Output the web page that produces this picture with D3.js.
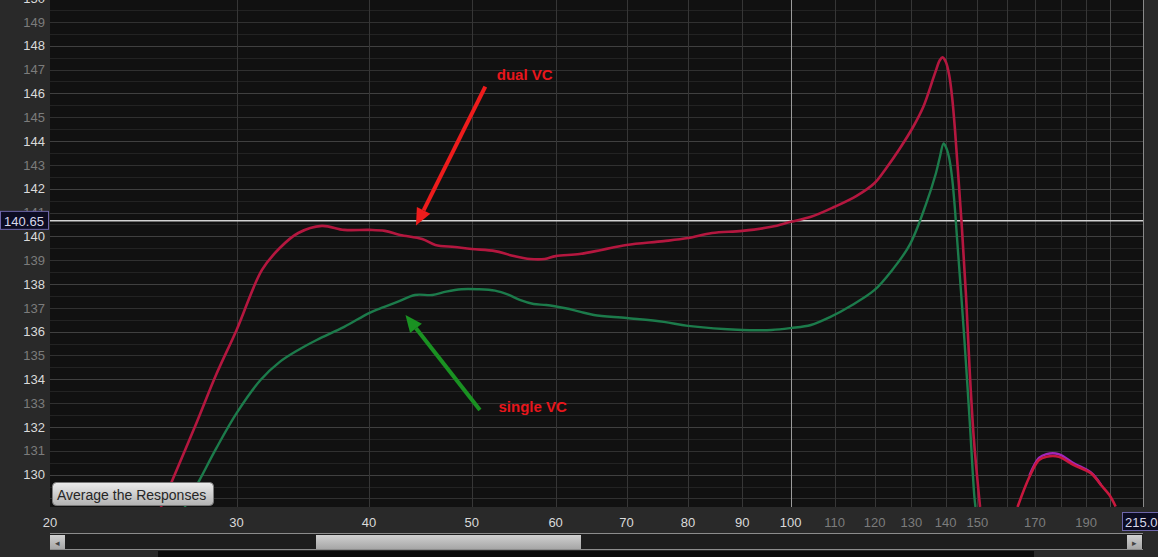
<!DOCTYPE html>
<html><head><meta charset="utf-8">
<script src="https://cdn.jsdelivr.net/npm/d3@7"></script>
<style>html,body{margin:0;padding:0;background:#2a2a2a;overflow:hidden}svg{display:block;font-family:"Liberation Sans",Arial,sans-serif}</style>
</head><body><svg id="c" width="1158" height="557"></svg>
<script>
// ---- data ----
const dualFreq = [25.45,25.96,27.5,28.7,30,31.7,32.95,34.3,36.1,37.9,40,41.4,42.8,44.9,46.2,48.2,50,52.6,54.4,56.8,58.6,60,63.2,66.3,70,75.9,80,84.3,90,95.9,100,104.5,110,115.4,120,123.1,126.8,130.5,133.4,136.8,138.3,139.1,140.1,141.1,142.0,142.9,143.8,145.1,146.4,147.6,148.9,150.9];
const dualDb   = [128.64,129.53,132.18,134.2,136.07,138.59,139.51,140.14,140.44,140.27,140.27,140.23,140.06,139.89,139.64,139.55,139.47,139.38,139.21,139.05,139.05,139.17,139.26,139.43,139.64,139.8,139.93,140.14,140.23,140.4,140.61,140.82,141.24,141.7,142.24,142.87,143.7,144.6,145.44,146.84,147.4,147.51,147.32,146.77,145.85,144.46,142.78,140.27,137.42,134.2,131.46,128.64];
const dualHumpFreq = [163.7,168,171.5,174.3,179,185,192,196.2,199.8,202.6];
const dualHumpDb   = [128.64,129.91,130.61,130.75,130.75,130.4,130.06,129.57,129.15,128.66];
const avgHumpFreq = [168,171.5,174.3,179,185,192,196.2];
const avgHumpDb   = [129.97,130.7,130.86,130.86,130.47,130.09,129.58];
const singleFreq = [26.8,27.7,28.7,30,31.6,32.95,34.3,35.7,37.9,40,41,42.6,44.2,45.9,47.3,48.9,50.6,52.6,54.2,55.5,57.2,58.8,61.3,63.2,65.2,70,75.9,80,90,95.9,100,104.5,108.9,114.3,120,124.7,129.5,134.1,137.1,138.3,139.4,140.1,141.1,142.0,142.9,143.8,145.1,146.4,147.6,149.0,149.4];
const singleDb   = [128.64,129.8,131.1,132.58,133.97,134.73,135.23,135.65,136.2,136.78,136.98,137.26,137.54,137.54,137.68,137.78,137.78,137.72,137.54,137.33,137.16,137.12,136.98,136.84,136.7,136.57,136.41,136.24,136.07,136.07,136.15,136.28,136.61,137.12,137.75,138.59,139.64,141.32,142.65,143.34,143.9,143.75,143.29,142.45,141.11,139.43,137.08,134.56,132.12,129.14,128.64];
const yTicks = [130,131,132,133,134,135,136,137,138,139,140,141,142,143,144,145,146,147,148,149,150];
const xTickLabels = [20,30,40,50,60,70,80,90,100,110,120,130,140,150,170,190];
const xGrid = [30,40,50,60,70,80,90,110,120,130,140,150,160,170,180,190];
const xGridMajor = [100,200];
const cursorDb = 140.65;
const cursorFreqLabel = "215.0";
const buttonLabel = "Average the Responses";
const annotations = [
  {text:"dual VC", tx:52.8, ty:146.56, from:[51.5,146.28], to:[44.3,140.45], color:"#ee1c1c"},
  {text:"single VC", tx:53.0, ty:132.63, from:[50.9,132.71], to:[43.3,136.7], color:"#1a9122"}
];

// ---- layout ----
const L=50, R=1143, T=0, B=507;
const x = d3.scaleLog().domain([20,215]).range([L,R]);
const y = d3.scaleLinear().domain([128.64,149.92]).range([B,T]);
const svg = d3.select("#c");
const defs = svg.append("defs");
defs.append("clipPath").attr("id","plot").append("rect").attr("x",L).attr("y",T).attr("width",R-L).attr("height",B-T);
const g1 = defs.append("linearGradient").attr("id","btn").attr("x1",0).attr("x2",0).attr("y1",0).attr("y2",1);
g1.append("stop").attr("offset","0").attr("stop-color","#ececec");
g1.append("stop").attr("offset","1").attr("stop-color","#b2b2b2");
const g2 = defs.append("linearGradient").attr("id","thumb").attr("x1",0).attr("x2",0).attr("y1",0).attr("y2",1);
g2.append("stop").attr("offset","0").attr("stop-color","#d0d0d0");
g2.append("stop").attr("offset","1").attr("stop-color","#a6a6a6");

svg.append("rect").attr("width",1158).attr("height",557).attr("fill","#292929");
svg.append("rect").attr("x",L).attr("y",T).attr("width",R-L).attr("height",B-T).attr("fill","#111111");

const plot = svg.append("g").attr("clip-path","url(#plot)");
const hLines = d3.range(128.5,150.01,0.5);
plot.selectAll(".hg").data(hLines).join("line")
  .attr("x1",L).attr("x2",R).attr("y1",d=>Math.round(y(d))+0.5).attr("y2",d=>Math.round(y(d))+0.5)
  .attr("stroke",d=> d%2===0 ? "#404040" : (d%1===0 ? "#313131" : "#232323")).attr("stroke-width",1);
plot.selectAll(".vg").data(xGrid).join("line")
  .attr("y1",T).attr("y2",B).attr("x1",d=>Math.round(x(d))+0.5).attr("x2",d=>Math.round(x(d))+0.5)
  .attr("stroke","#363636");
plot.selectAll(".vgm").data(xGridMajor).join("line")
  .attr("y1",T).attr("y2",B).attr("x1",d=>Math.round(x(d))+0.5).attr("x2",d=>Math.round(x(d))+0.5)
  .attr("stroke",(d,i)=> i===0 ? "#9c9c9c" : "#4c4c4c");

plot.append("line").attr("x1",L).attr("x2",R).attr("y1",y(cursorDb)).attr("y2",y(cursorDb))
  .attr("stroke","#d2d2d2").attr("stroke-width",1.5);

const line = d3.line().x(d=>x(d[0])).y(d=>y(d[1])).curve(d3.curveCatmullRom.alpha(0.5));
function series(f,v,color,w){
  plot.append("path").datum(f.map((d,i)=>[d,v[i]])).attr("d",line)
    .attr("fill","none").attr("stroke",color).attr("stroke-width",w).attr("stroke-linejoin","round");
}
series(singleFreq,singleDb,"#1c7b4b",2.4);
series(avgHumpFreq,avgHumpDb,"#a226b8",2.4);
series(dualFreq,dualDb,"#b4173f",2.6);
series(dualHumpFreq,dualHumpDb,"#c8183e",2.6);

annotations.forEach(a=>{
  const x1=x(a.from[0]), y1=y(a.from[1]), x2=x(a.to[0]), y2=y(a.to[1]);
  const ang=Math.atan2(y2-y1,x2-x1), hl=17, hw=7.5;
  const bx=x2-hl*Math.cos(ang), by=y2-hl*Math.sin(ang);
  plot.append("line").attr("x1",x1).attr("y1",y1).attr("x2",bx).attr("y2",by)
    .attr("stroke",a.color).attr("stroke-width",4);
  const px=-Math.sin(ang), py=Math.cos(ang);
  plot.append("path").attr("d",`M${x2},${y2}L${bx+px*hw},${by+py*hw}L${bx-px*hw},${by-py*hw}Z`).attr("fill",a.color);
  plot.append("text").attr("x",x(a.tx)).attr("y",y(a.ty)).text(a.text)
    .attr("fill","#e8161c").attr("font-size",15).attr("font-weight","bold");
});

svg.append("line").attr("x1",R+0.5).attr("x2",R+0.5).attr("y1",0).attr("y2",B).attr("stroke","#8a8a8a");

svg.selectAll(".yl").data(yTicks).join("text")
  .attr("x",45).attr("y",d=>y(d)).attr("dy","0.36em").attr("text-anchor","end")
  .attr("font-size",13).attr("fill",d=>d%2===0?"#dadada":"#7c7c7c").text(d=>d);
svg.append("rect").attr("x",0.5).attr("y",y(cursorDb)-9.5).attr("width",48).attr("height",18)
  .attr("fill","#0c0c22").attr("stroke","#6e66aa");
svg.append("text").attr("x",24).attr("y",y(cursorDb)).attr("dy","0.36em").attr("text-anchor","middle")
  .attr("font-size",13).attr("fill","#d8d8ea").text(cursorDb.toFixed(2));

svg.selectAll(".xl").data(xTickLabels).join("text")
  .attr("x",d=>x(d)).attr("y",527).attr("text-anchor","middle")
  .attr("font-size",13).attr("fill",d=>d<=100?"#dadada":"#7c7c7c").text(d=>d);
svg.append("rect").attr("x",1122.5).attr("y",512.5).attr("width",40).attr("height",18)
  .attr("fill","#0c0c22").attr("stroke","#6e66aa");
svg.append("text").attr("x",1125).attr("y",527).attr("font-size",13).attr("fill","#d8d8ea").text(cursorFreqLabel);

svg.append("rect").attr("x",52.5).attr("y",482.5).attr("width",161).attr("height",23).attr("rx",4)
  .attr("fill","url(#btn)").attr("stroke","#7a7a7a");
svg.append("text").attr("x",57).attr("y",499.5).attr("font-size",14).attr("fill","#262626").text(buttonLabel);

svg.append("rect").attr("x",L).attr("y",533).attr("width",R-L).attr("height",17).attr("fill","#1d1d1d");
svg.append("line").attr("x1",L).attr("x2",R).attr("y1",533.5).attr("y2",533.5).attr("stroke","#8c8c8c");
svg.append("line").attr("x1",L).attr("x2",R).attr("y1",549.5).attr("y2",549.5).attr("stroke","#8c8c8c");
svg.append("rect").attr("x",316).attr("y",535).attr("width",265).attr("height",14).attr("fill","url(#thumb)");
[[50,"◂"],[1127,"▸"]].forEach(([bx,t])=>{
  svg.append("rect").attr("x",bx).attr("y",535).attr("width",15).attr("height",14).attr("fill","url(#thumb)");
  svg.append("text").attr("x",bx+7.5).attr("y",546).attr("text-anchor","middle").attr("font-size",9).attr("fill","#444").text(t);
});
svg.append("rect").attr("x",158).attr("y",551).attr("width",876).attr("height",6).attr("fill","#0b0b0b");
</script></body></html>
